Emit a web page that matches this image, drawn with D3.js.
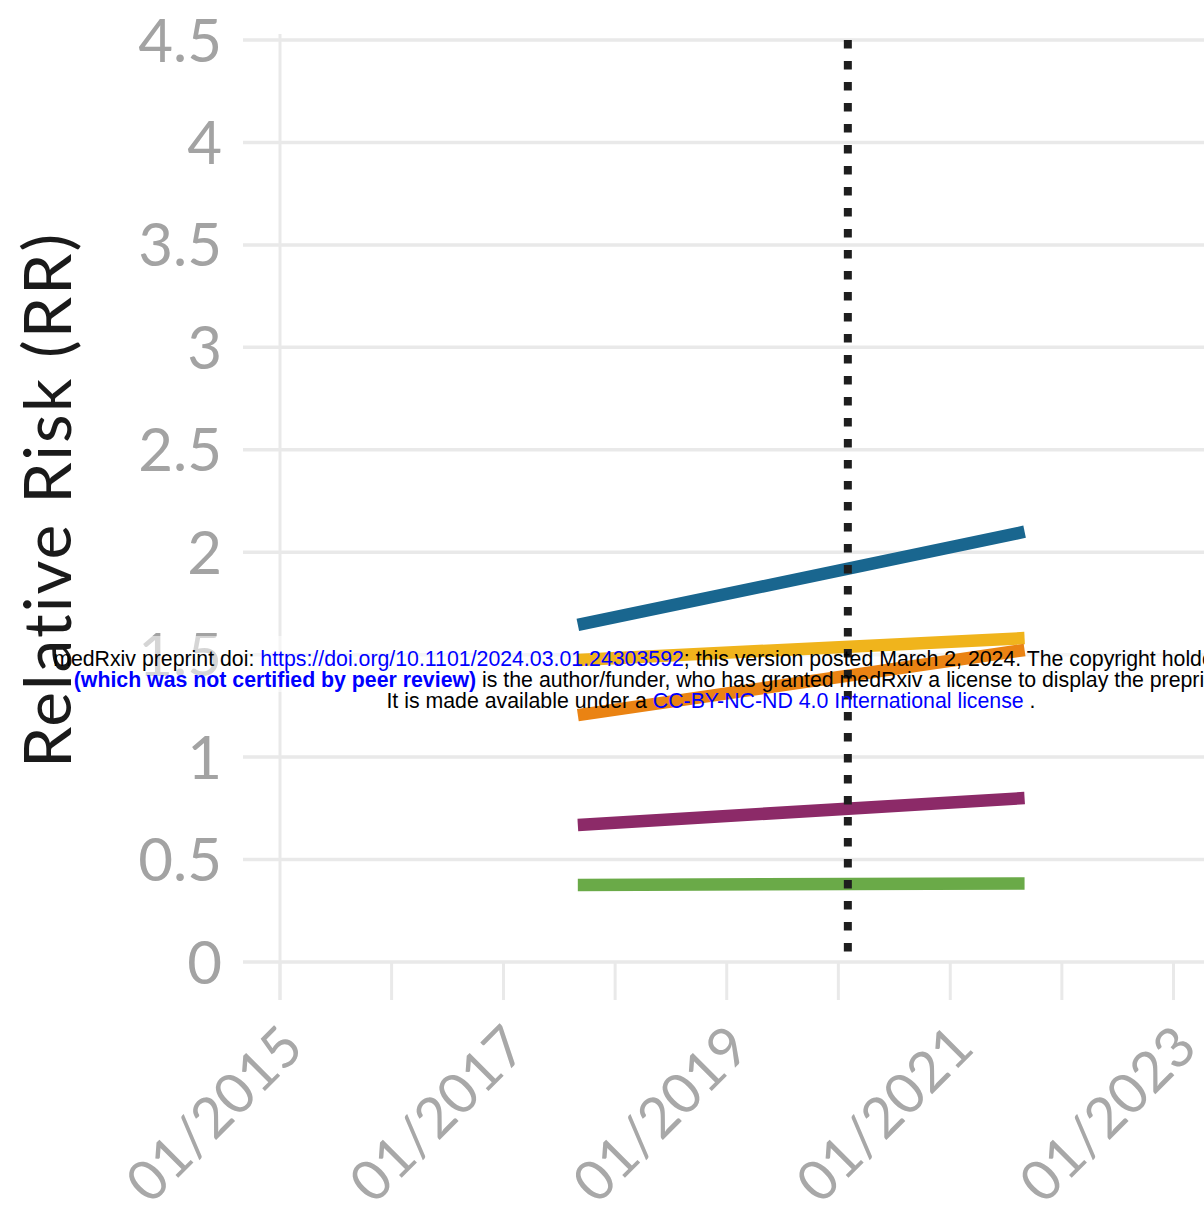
<!DOCTYPE html>
<html><head><meta charset="utf-8">
<script src="https://cdn.jsdelivr.net/npm/d3@7"></script>
<style>body{margin:0;background:#fff;overflow:hidden}</style>
</head><body>
<svg id="chart" width="1204" height="1217"></svg>
<script>
// ---- data ----
const seriesNames = ["Series 1", "Series 2", "Series 3", "Series 4", "Series 5"];
const seriesColors = ["#19668f", "#f0b41c", "#ea8313", "#8c2a68", "#6aaa48"];
const periodDates = ["2017-09-01", "2021-09-01"];
const series1Values = [1.645, 2.10];
const series2Values = [1.474, 1.581];
const series3Values = [1.205, 1.523];
const series4Values = [0.669, 0.800];
const series5Values = [0.376, 0.383];
const breakDate = "2020-02-01";
const yTicks = [0, 0.5, 1, 1.5, 2, 2.5, 3, 3.5, 4, 4.5];
const yTickLabels = ["0", "0.5", "1", "1.5", "2", "2.5", "3", "3.5", "4", "4.5"];
const xTickYears = [2015, 2016, 2017, 2018, 2019, 2020, 2021, 2022, 2023];
const xLabelYears = [2015, 2017, 2019, 2021, 2023];
const yTitle = "Relative Risk (RR)";

// ---- build ----
const parse = d3.timeParse("%Y-%m-%d");
const allValues = [series1Values, series2Values, series3Values, series4Values, series5Values];
const seriesData = seriesNames.map((n, i) => ({
  name: n, color: seriesColors[i],
  points: periodDates.map((d, j) => ({date: parse(d), value: allValues[i][j]}))
}));

const svg = d3.select("#chart");
const x = d3.scaleTime()
  .domain([new Date(2015, 0, 1), new Date(2023, 0, 1)])
  .range([280, 1173.5]);
const y = d3.scaleLinear().domain([0, 4.5]).range([962, 40]);

const gridColor = "#e9e9e9";

// horizontal gridlines
svg.append("g").selectAll("line").data(yTicks).join("line")
  .attr("x1", 243).attr("x2", 1204)
  .attr("y1", d => y(d)).attr("y2", d => y(d))
  .attr("stroke", gridColor).attr("stroke-width", 3.5);

// y axis line at first year
svg.append("line")
  .attr("x1", x(new Date(2015, 0, 1))).attr("x2", x(new Date(2015, 0, 1)))
  .attr("y1", y(4.5) - 6).attr("y2", 1000)
  .attr("stroke", gridColor).attr("stroke-width", 3);

// x ticks
svg.append("g").selectAll("line").data(xTickYears).join("line")
  .attr("x1", d => x(new Date(d, 0, 1))).attr("x2", d => x(new Date(d, 0, 1)))
  .attr("y1", y(0)).attr("y2", 1000)
  .attr("stroke", gridColor).attr("stroke-width", 3);

// y tick labels
svg.append("g").selectAll("text").data(yTicks).join("text")
  .attr("x", 222).attr("y", d => y(d))
  .attr("dy", "0.36em")
  .attr("text-anchor", "end")
  .attr("font-family", "Lato, sans-serif")
  .attr("font-size", 60)
  .attr("fill", "#a3a3a3")
  .text((d, i) => yTickLabels[i]);

// x tick labels
svg.append("g").selectAll("text").data(xLabelYears).join("text")
  .attr("transform", d => `translate(${x(new Date(d, 0, 1)) + 26},${1050}) rotate(-45)`)
  .attr("text-anchor", "end")
  .attr("font-family", "Lato, sans-serif")
  .attr("font-size", 56)
  .attr("fill", "#a8a8a8")
  .text(d => "01/" + d);

// faded band behind the watermark (as in the reference)
svg.append("rect")
  .attr("x", 100).attr("y", 636).attr("width", 1104).attr("height", 56)
  .attr("fill", "#fff").attr("opacity", 0.55);

// y title
svg.append("text")
  .attr("transform", "translate(71,500) rotate(-90)")
  .attr("text-anchor", "middle")
  .attr("font-family", "Lato, sans-serif")
  .attr("font-size", 66)
  .attr("letter-spacing", 2)
  .attr("fill", "#1a1a1a")
  .text(yTitle);

// series lines
const line = d3.line().x(d => x(d.date)).y(d => y(d.value));
svg.append("g").selectAll("path").data(seriesData).join("path")
  .attr("d", d => line(d.points))
  .attr("fill", "none")
  .attr("stroke", d => d.color)
  .attr("stroke-width", 12.5);

// break line
const bx = x(parse(breakDate));
svg.append("line")
  .attr("x1", bx).attr("x2", bx)
  .attr("y1", y(4.5)).attr("y2", y(0))
  .attr("stroke", "#1e1e1e").attr("stroke-width", 8)
  .attr("stroke-dasharray", "8.5 12.5");

// medRxiv watermark
const wm = svg.append("g").attr("font-family", "'Liberation Sans', Arial, sans-serif").attr("font-size", 21.3).attr("text-anchor", "middle");
const l1 = wm.append("text").attr("x", 711).attr("y", 666);
l1.append("tspan").attr("fill", "#000").text("medRxiv preprint doi: ");
l1.append("tspan").attr("fill", "#0000ff").text("https://doi.org/10.1101/2024.03.01.24303592");
l1.append("tspan").attr("fill", "#000").text("; this version posted March 2, 2024. The copyright holder for this preprint");
const l2 = wm.append("text").attr("x", 711).attr("y", 687);
l2.append("tspan").attr("fill", "#0000ff").attr("font-weight", "bold").text("(which was not certified by peer review)");
l2.append("tspan").attr("fill", "#000").text(" is the author/funder, who has granted medRxiv a license to display the preprint in perpetuity.");
const l3 = wm.append("text").attr("x", 711).attr("y", 708);
l3.append("tspan").attr("fill", "#000").text("It is made available under a ");
l3.append("tspan").attr("fill", "#0000ff").text("CC-BY-NC-ND 4.0 International license");
l3.append("tspan").attr("fill", "#000").text(" .");
</script>
</body></html>
